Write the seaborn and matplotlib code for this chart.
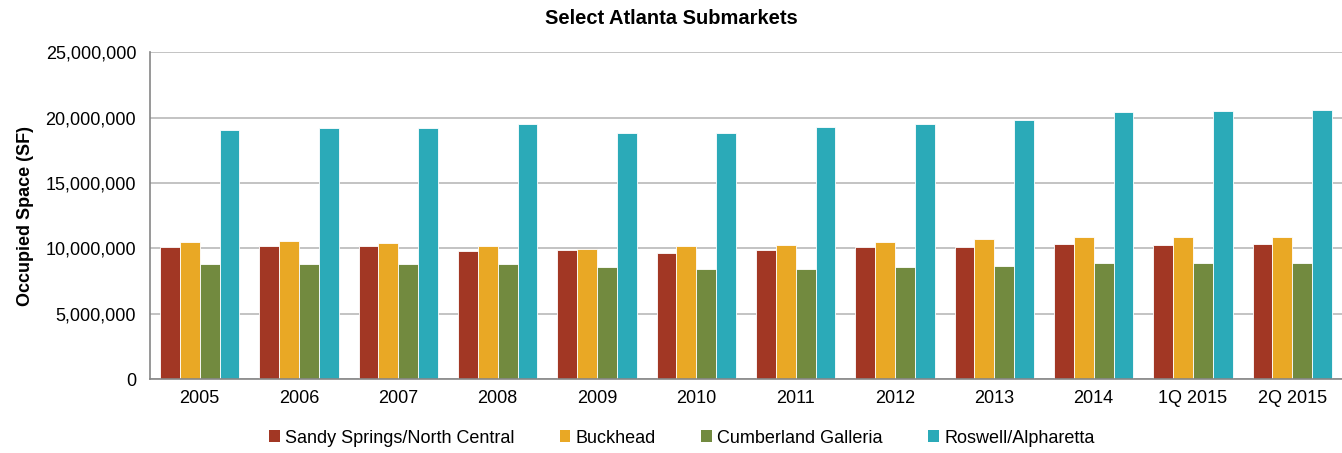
import pandas as pd
import matplotlib.pyplot as plt
import seaborn as sns
from matplotlib.ticker import FuncFormatter, FixedLocator
from matplotlib.patches import Patch

# ---------- Data ----------
periods = ['2005', '2006', '2007', '2008', '2009', '2010', '2011', '2012',
           '2013', '2014', '1Q 2015', '2Q 2015']
sandy_springs = [10080000, 10150000, 10150000, 9820000, 9850000, 9640000,
                 9870000, 10100000, 10100000, 10330000, 10280000, 10310000]
buckhead = [10460000, 10530000, 10380000, 10200000, 9950000, 10150000,
            10230000, 10510000, 10690000, 10870000, 10890000, 10890000]
cumberland = [8830000, 8800000, 8830000, 8800000, 8550000, 8400000,
              8400000, 8600000, 8650000, 8850000, 8910000, 8910000]
roswell = [19030000, 19190000, 19190000, 19490000, 18830000, 18850000,
           19310000, 19470000, 19820000, 20430000, 20510000, 20560000]

series_names = ['Sandy Springs/North Central', 'Buckhead',
                'Cumberland Galleria', 'Roswell/Alpharetta']
colors = ['#A23724', '#E9A825', '#728A3F', '#2BAAB8']

# ---------- Long format ----------
rows = []
for name, vals in zip(series_names, [sandy_springs, buckhead, cumberland, roswell]):
    for p, v in zip(periods, vals):
        rows.append({'Period': p, 'Submarket': name, 'Occupied': v})
df = pd.DataFrame(rows)

# ---------- Plot ----------
sns.set_style('white')
plt.rcParams['font.family'] = ['Liberation Sans', 'DejaVu Sans']
plt.rcParams['text.color'] = 'black'

fig = plt.figure(figsize=(13.42, 4.53), dpi=100)
ax = fig.add_axes([0.1118, 0.163, 0.8882, 0.722])

sns.barplot(data=df, x='Period', y='Occupied', hue='Submarket',
            order=periods, hue_order=series_names, palette=colors,
            saturation=1, width=0.8, gap=0, edgecolor='white', linewidth=0.6,
            ax=ax, legend=False)

ax.set_ylim(0, 25000000)
ax.set_xlim(-0.5, len(periods) - 0.5)
ax.set_yticks(range(0, 25000001, 5000000))
ax.yaxis.set_major_formatter(FuncFormatter(lambda v, _: f'{int(v):,}'))
ax.yaxis.grid(True, color='#BEBEBE', linewidth=1.3)
ax.set_axisbelow(True)

# category ticks at boundaries between groups
ax.xaxis.set_minor_locator(FixedLocator([i - 0.5 for i in range(len(periods) + 1)]))
ax.tick_params(axis='x', which='major', length=0, pad=8, labelsize=13, labelcolor='black')
ax.tick_params(axis='x', which='minor', length=6, width=1, color='#868686', direction='out')
ax.tick_params(axis='y', length=6, width=1, color='#868686', direction='out',
               labelsize=13, labelcolor='black', pad=4)

for side in ['top', 'right']:
    ax.spines[side].set_visible(False)
for side in ['left', 'bottom']:
    ax.spines[side].set_color('#868686')
    ax.spines[side].set_linewidth(1.2)

ax.set_xlabel('')
ax.set_ylabel('Occupied Space (SF)', fontsize=13, fontweight='bold', labelpad=8,
              color='black')
fig.text(0.5, 0.96, 'Select Atlanta Submarkets', ha='center', va='center',
         fontsize=14.5, fontweight='bold', color='black')

handles = [Patch(facecolor=c, edgecolor='none') for c in colors]
fig.legend(handles, series_names, loc='center', bbox_to_anchor=(0.508, 0.033),
           ncol=4, frameon=False, fontsize=13, handlelength=0.6, handleheight=0.6,
           handletextpad=0.3, columnspacing=2.5)

fig.savefig('out.png', dpi=100)
